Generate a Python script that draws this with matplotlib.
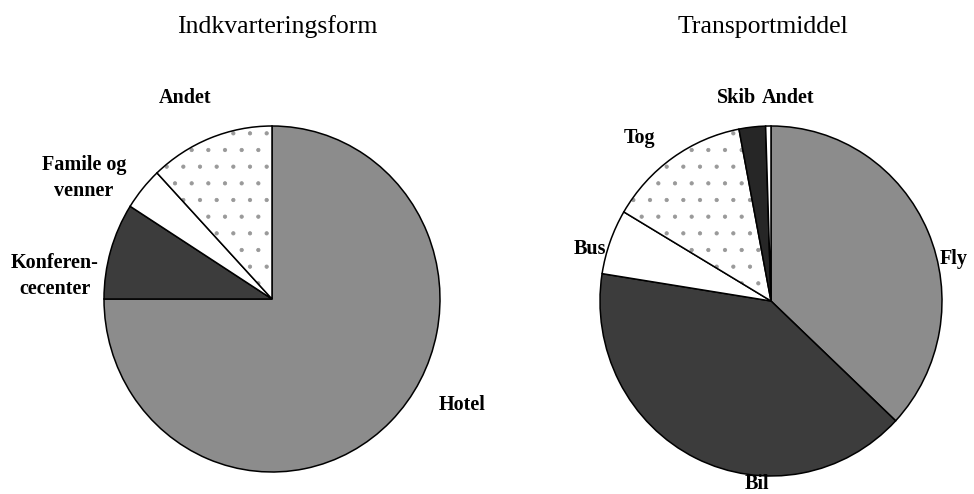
"""
Two pie charts: accommodation type and means of transport.
"""

import matplotlib.pyplot as plt

plt.rcParams["font.family"] = ["Liberation Serif", "DejaVu Serif"]
plt.rcParams["hatch.linewidth"] = 0.6

W, H = 974, 494

# Data (shares in percent)
stay_labels = ["Hotel", "Konferen-\ncecenter", "Famile og\nvenner", "Andet"]
stay_values = [75, 9, 4, 12]

travel_labels = ["Fly", "Bil", "Bus", "Tog", "Skib", "Andet"]
travel_values = [37, 40.5, 6, 13.5, 2.5, 0.5]

# Styles
GRAY = "#8c8c8c"
DARK = "#3c3c3c"
DARKER = "#262626"
stay_colors = [GRAY, DARK, "white", "white"]
stay_hatch = [None, None, None, "."]
travel_colors = [GRAY, DARK, "white", "white", DARKER, "white"]
travel_hatch = [None, None, None, ".", None, None]

# label positions in pixels (x, y from top)
stay_label_px = [(462, 405), (55, 276), (84, 178), (185, 98)]
travel_label_px = [(954, 259), (757, 484), (590, 249), (640, 138), (737, 98), (788, 98)]


def pie_axes(cx, cy, rx, ry):
    return fig.add_axes([(cx - rx) / W, (H - cy - ry) / H, 2 * rx / W, 2 * ry / H])


def draw_pie(ax, values, colors, hatches):
    wedges, _ = ax.pie(values, colors=colors, startangle=90, counterclock=False,
                       wedgeprops=dict(edgecolor="black", linewidth=1.1))
    for w, h in zip(wedges, hatches):
        if h:
            w.set_hatch(h)
            w._hatch_color = (0.6, 0.6, 0.6, 1.0)
    ax.set_aspect("auto")
    ax.set_xlim(-1, 1)
    ax.set_ylim(-1, 1)
    ax.axis("off")


fig = plt.figure(figsize=(W / 100, H / 100), dpi=100)

ax1 = pie_axes(272, 299, 168, 173)
draw_pie(ax1, stay_values, stay_colors, stay_hatch)
ax2 = pie_axes(771, 301, 171, 175)
draw_pie(ax2, travel_values, travel_colors, travel_hatch)

fig.text(277 / W, 1 - 27 / H, "Indkvarteringsform", ha="center", va="center", fontsize=18.5)
fig.text(763 / W, 1 - 27 / H, "Transportmiddel", ha="center", va="center", fontsize=18.5)

for lab, (x, y) in zip(stay_labels, stay_label_px):
    fig.text(x / W, 1 - y / H, lab, ha="center", va="center", fontsize=14.5,
             fontweight="bold", linespacing=1.45)
for lab, (x, y) in zip(travel_labels, travel_label_px):
    fig.text(x / W, 1 - y / H, lab, ha="center", va="center", fontsize=14.5,
             fontweight="bold", linespacing=1.45)

fig.savefig("out.png", dpi=100)
